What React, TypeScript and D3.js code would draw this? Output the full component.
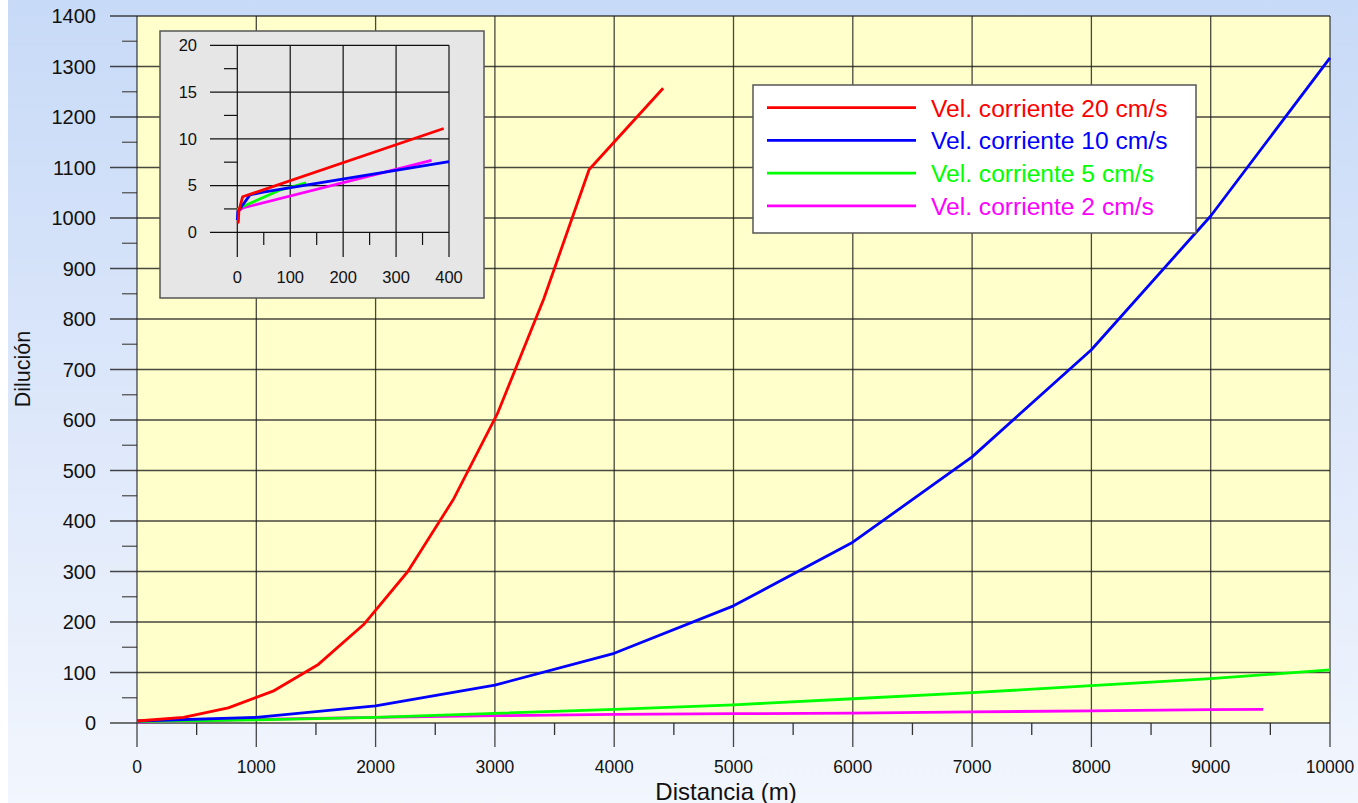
import React from "react";
import * as d3 from "d3";

// Main chart data
const distRed = [0, 390, 765, 1140, 1520, 1900, 2270, 2650, 3020, 3410, 3790, 4410];
const dilRed = [4, 11, 30, 63, 116, 195, 300, 442, 612, 840, 1096, 1257];
const distBlue = [0, 1000, 2000, 3000, 4000, 5000, 6000, 7000, 8000, 9000, 10000];
const dilBlue = [4, 11, 34, 75, 138, 232, 358, 527, 739, 1004, 1317];
const distGreen = [0, 1000, 2000, 3000, 4000, 5000, 6000, 7000, 8000, 9000, 10000];
const dilGreen = [3, 6, 11, 19, 27, 36, 48, 60, 74, 88, 105];
const distMagenta = [0, 1000, 2000, 3000, 4000, 5000, 6000, 7000, 8000, 9000, 9440];
const dilMagenta = [2, 7, 11, 14.5, 17, 18.5, 19.5, 22, 24, 26.4, 27];

// Inset data (first 400 m)
const insetDistRed = [0, 2, 3, 10, 390];
const insetDilRed = [1.0, 1.1, 2.3, 3.8, 11.1];
const insetDistBlue = [0, 1, 24, 49, 400];
const insetDilBlue = [1.3, 2.2, 4.0, 4.3, 7.55];
const insetDistGreen = [0, 8, 80, 130];
const insetDilGreen = [2.4, 2.7, 4.5, 5.3];
const insetDistMagenta = [0, 10, 367];
const insetDilMagenta = [2.2, 2.6, 7.7];

const legendLabels = [
  "Vel. corriente 20 cm/s",
  "Vel. corriente 10 cm/s",
  "Vel. corriente 5 cm/s",
  "Vel. corriente 2 cm/s",
];
const seriesColors = ["#ff0000", "#0000ff", "#00ff00", "#ff00ff"];

const xTicksMain = [0, 1000, 2000, 3000, 4000, 5000, 6000, 7000, 8000, 9000, 10000];
const yTicksMain = [0, 100, 200, 300, 400, 500, 600, 700, 800, 900, 1000, 1100, 1200, 1300, 1400];
const xTicksInset = [0, 100, 200, 300, 400];
const yTicksInset = [0, 5, 10, 15, 20];

const FONT = "'Liberation Sans', Arial, sans-serif";

const zip = (xs: number[], ys: number[]) => xs.map((x, i) => [x, ys[i]] as [number, number]);

export default function App() {
  const W = 1358, H = 803;
  const x = d3.scaleLinear().domain([0, 10000]).range([137, 1330]);
  const y = d3.scaleLinear().domain([0, 1400]).range([723, 16]);
  const line = d3.line<[number, number]>().x((d) => x(d[0])).y((d) => y(d[1]));

  const xi = d3.scaleLinear().domain([0, 400]).range([237.3, 449]);
  const yi = d3.scaleLinear().domain([0, 20]).range([232.3, 45.3]);
  const linei = d3.line<[number, number]>().x((d) => xi(d[0])).y((d) => yi(d[1]));

  const mainSeries = [
    zip(distRed, dilRed),
    zip(distBlue, dilBlue),
    zip(distGreen, dilGreen),
    zip(distMagenta, dilMagenta),
  ];
  const insetSeries = [
    zip(insetDistRed, insetDilRed),
    zip(insetDistBlue, insetDilBlue),
    zip(insetDistGreen, insetDilGreen),
    zip(insetDistMagenta, insetDilMagenta),
  ];
  const drawOrder = [3, 2, 1, 0];

  const xMinor = d3.range(500, 10000, 1000);
  const yMinor = d3.range(50, 1400, 100);
  const xiMinor = d3.range(50, 400, 100);
  const yiMinor = d3.range(2.5, 20, 5);

  const gridColor = "#1a1a1a";

  return (
    <div style={{ position: "absolute", left: 0, top: 0 }}>
      <svg width={W} height={H} style={{ display: "block" }}>
        <defs>
          <linearGradient id="bg" x1="0" y1="0" x2="0" y2="1">
            <stop offset="0" stopColor="#c7daf7" />
            <stop offset="0.5" stopColor="#dce7fa" />
            <stop offset="1" stopColor="#f2f6fd" />
          </linearGradient>
        </defs>
        <rect x={0} y={0} width={W} height={H} fill="#ffffff" />
        <rect x={8} y={0} width={W - 8} height={H} fill="url(#bg)" />

        {/* plot area */}
        <rect x={x(0)} y={y(1400)} width={x(10000) - x(0)} height={y(0) - y(1400)} fill="#ffffcc" />

        {/* horizontal grid + y major ticks */}
        {yTicksMain.map((t) => (
          <line key={"yg" + t} x1={110} x2={x(10000)} y1={y(t)} y2={y(t)} stroke={gridColor} strokeOpacity={0.8} strokeWidth={1.3} />
        ))}
        {yMinor.map((t) => (
          <line key={"ym" + t} x1={122} x2={x(0)} y1={y(t)} y2={y(t)} stroke="#555" strokeWidth={1.3} />
        ))}
        {/* vertical grid + x major ticks */}
        {xTicksMain.map((t) => (
          <line key={"xg" + t} x1={x(t)} x2={x(t)} y1={y(1400)} y2={747} stroke={gridColor} strokeOpacity={0.8} strokeWidth={1.3} />
        ))}
        {xMinor.map((t) => (
          <line key={"xm" + t} x1={x(t)} x2={x(t)} y1={y(0)} y2={735} stroke="#333" strokeWidth={1.3} />
        ))}

        {/* y tick labels */}
        {yTicksMain.map((t) => (
          <text key={"yl" + t} x={96} y={y(t)} dy="0.36em" textAnchor="end" fontFamily={FONT} fontSize={20} fill="#111">
            {t}
          </text>
        ))}
        {/* x tick labels */}
        {xTicksMain.map((t) => (
          <text key={"xl" + t} x={x(t)} y={773} textAnchor="middle" fontFamily={FONT} fontSize={17.5} fill="#111">
            {t}
          </text>
        ))}

        {/* axis titles */}
        <text x={726} y={799.5} textAnchor="middle" fontFamily={FONT} fontSize={24} fill="#111">
          Distancia (m)
        </text>
        <text transform={`translate(30,369) rotate(-90)`} textAnchor="middle" fontFamily={FONT} fontSize={21.5} fill="#111">
          Dilución
        </text>

        {/* main series */}
        {drawOrder.map((i) => (
          <path key={"s" + i} d={line(mainSeries[i]) || ""} fill="none" stroke={seriesColors[i]} strokeWidth={2.8} strokeLinejoin="round" />
        ))}

        {/* inset */}
        <rect x={160} y={31} width={324} height={267} fill="#e6e6e6" stroke="#555" strokeWidth={1.5} />
        {yTicksInset.map((t) => (
          <line key={"iyg" + t} x1={210} x2={xi(400)} y1={yi(t)} y2={yi(t)} stroke="#111" strokeWidth={1.2} />
        ))}
        {yiMinor.map((t) => (
          <line key={"iym" + t} x1={224} x2={xi(0)} y1={yi(t)} y2={yi(t)} stroke="#111" strokeWidth={1.2} />
        ))}
        {xTicksInset.map((t) => (
          <line key={"ixg" + t} x1={xi(t)} x2={xi(t)} y1={yi(20)} y2={257} stroke="#111" strokeWidth={1.2} />
        ))}
        {xiMinor.map((t) => (
          <line key={"ixm" + t} x1={xi(t)} x2={xi(t)} y1={yi(0)} y2={245} stroke="#111" strokeWidth={1.2} />
        ))}
        {yTicksInset.map((t) => (
          <text key={"iyl" + t} x={197} y={yi(t)} dy="0.36em" textAnchor="end" fontFamily={FONT} fontSize={16.5} fill="#111">
            {t}
          </text>
        ))}
        {xTicksInset.map((t) => (
          <text key={"ixl" + t} x={xi(t)} y={283} textAnchor="middle" fontFamily={FONT} fontSize={16.5} fill="#111">
            {t}
          </text>
        ))}
        {drawOrder.map((i) => (
          <path key={"is" + i} d={linei(insetSeries[i]) || ""} fill="none" stroke={seriesColors[i]} strokeWidth={2.8} strokeLinejoin="round" />
        ))}

        {/* legend */}
        <rect x={753} y={85} width={443} height={148} fill="#ffffff" stroke="#555" strokeWidth={1.5} />
        {legendLabels.map((lab, i) => {
          const ly = 107.7 + i * 32.7;
          return (
            <g key={"lg" + i}>
              <line x1={767} x2={916} y1={ly} y2={ly} stroke={seriesColors[i]} strokeWidth={2.8} />
              <text x={931} y={ly} dy="0.36em" fontFamily={FONT} fontSize={24.6} fill={seriesColors[i]}>
                {lab}
              </text>
            </g>
          );
        })}
      </svg>
    </div>
  );
}
